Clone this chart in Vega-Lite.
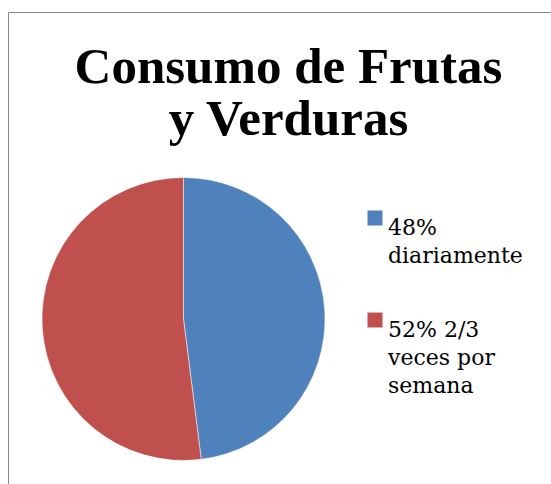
{
  "$schema": "https://vega.github.io/schema/vega-lite/v6.json",
  "width": 543,
  "height": 472,
  "autosize": {"type": "none"},
  "padding": {"left": 8, "top": 12, "right": 0, "bottom": 0},
  "background": "white",
  "config": {
    "view": {"stroke": "#868686", "strokeWidth": 1},
    "style": {"guide-label": {"lineHeight": 28}}
  },
  "title": {
    "text": ["Consumo de Frutas", "y Verduras"],
    "font": "Liberation Serif",
    "fontSize": 51,
    "fontWeight": "bold",
    "color": "#000000",
    "lineHeight": 52,
    "anchor": "middle",
    "frame": "group",
    "offset": 0,
    "baseline": "alphabetic",
    "dy": 174,
    "dx": 9
  },
  "data": {
    "values": [
      {"label": "48% diariamente", "value": 48},
      {"label": "52% 2/3 veces por semana", "value": 52}
    ]
  },
  "mark": {"type": "arc", "radius": 141.5, "stroke": "white", "strokeWidth": 0.5},
  "encoding": {
    "theta": {"field": "value", "type": "quantitative", "stack": true},
    "order": {"field": "value", "type": "quantitative"},
    "x": {"datum": 0.3232, "type": "quantitative", "scale": {"domain": [0, 1]}, "axis": null},
    "y": {"datum": 0.3496, "type": "quantitative", "scale": {"domain": [0, 1]}, "axis": null},
    "color": {
      "field": "label",
      "type": "nominal",
      "scale": {"domain": ["48% diariamente", "52% 2/3 veces por semana"], "range": ["#4F81BD", "#C0504D"]},
      "legend": {
        "title": null,
        "orient": "none",
        "legendX": 356,
        "legendY": 195,
        "padding": 0,
        "symbolType": "square",
        "symbolSize": 225,
        "symbolStrokeWidth": 0,
        "symbolOpacity": 1,
        "labelFont": "DejaVu Serif",
        "labelFontSize": 22,
        "labelColor": "#000000",
        "labelBaseline": "top",
        "labelOffset": 2,
        "labelLimit": 300,
        "rowPadding": 42,
        "labelExpr": "datum.label == '48% diariamente' ? ['48%', 'diariamente'] : ['52% 2/3', 'veces por', 'semana']"
      }
    }
  }
}
